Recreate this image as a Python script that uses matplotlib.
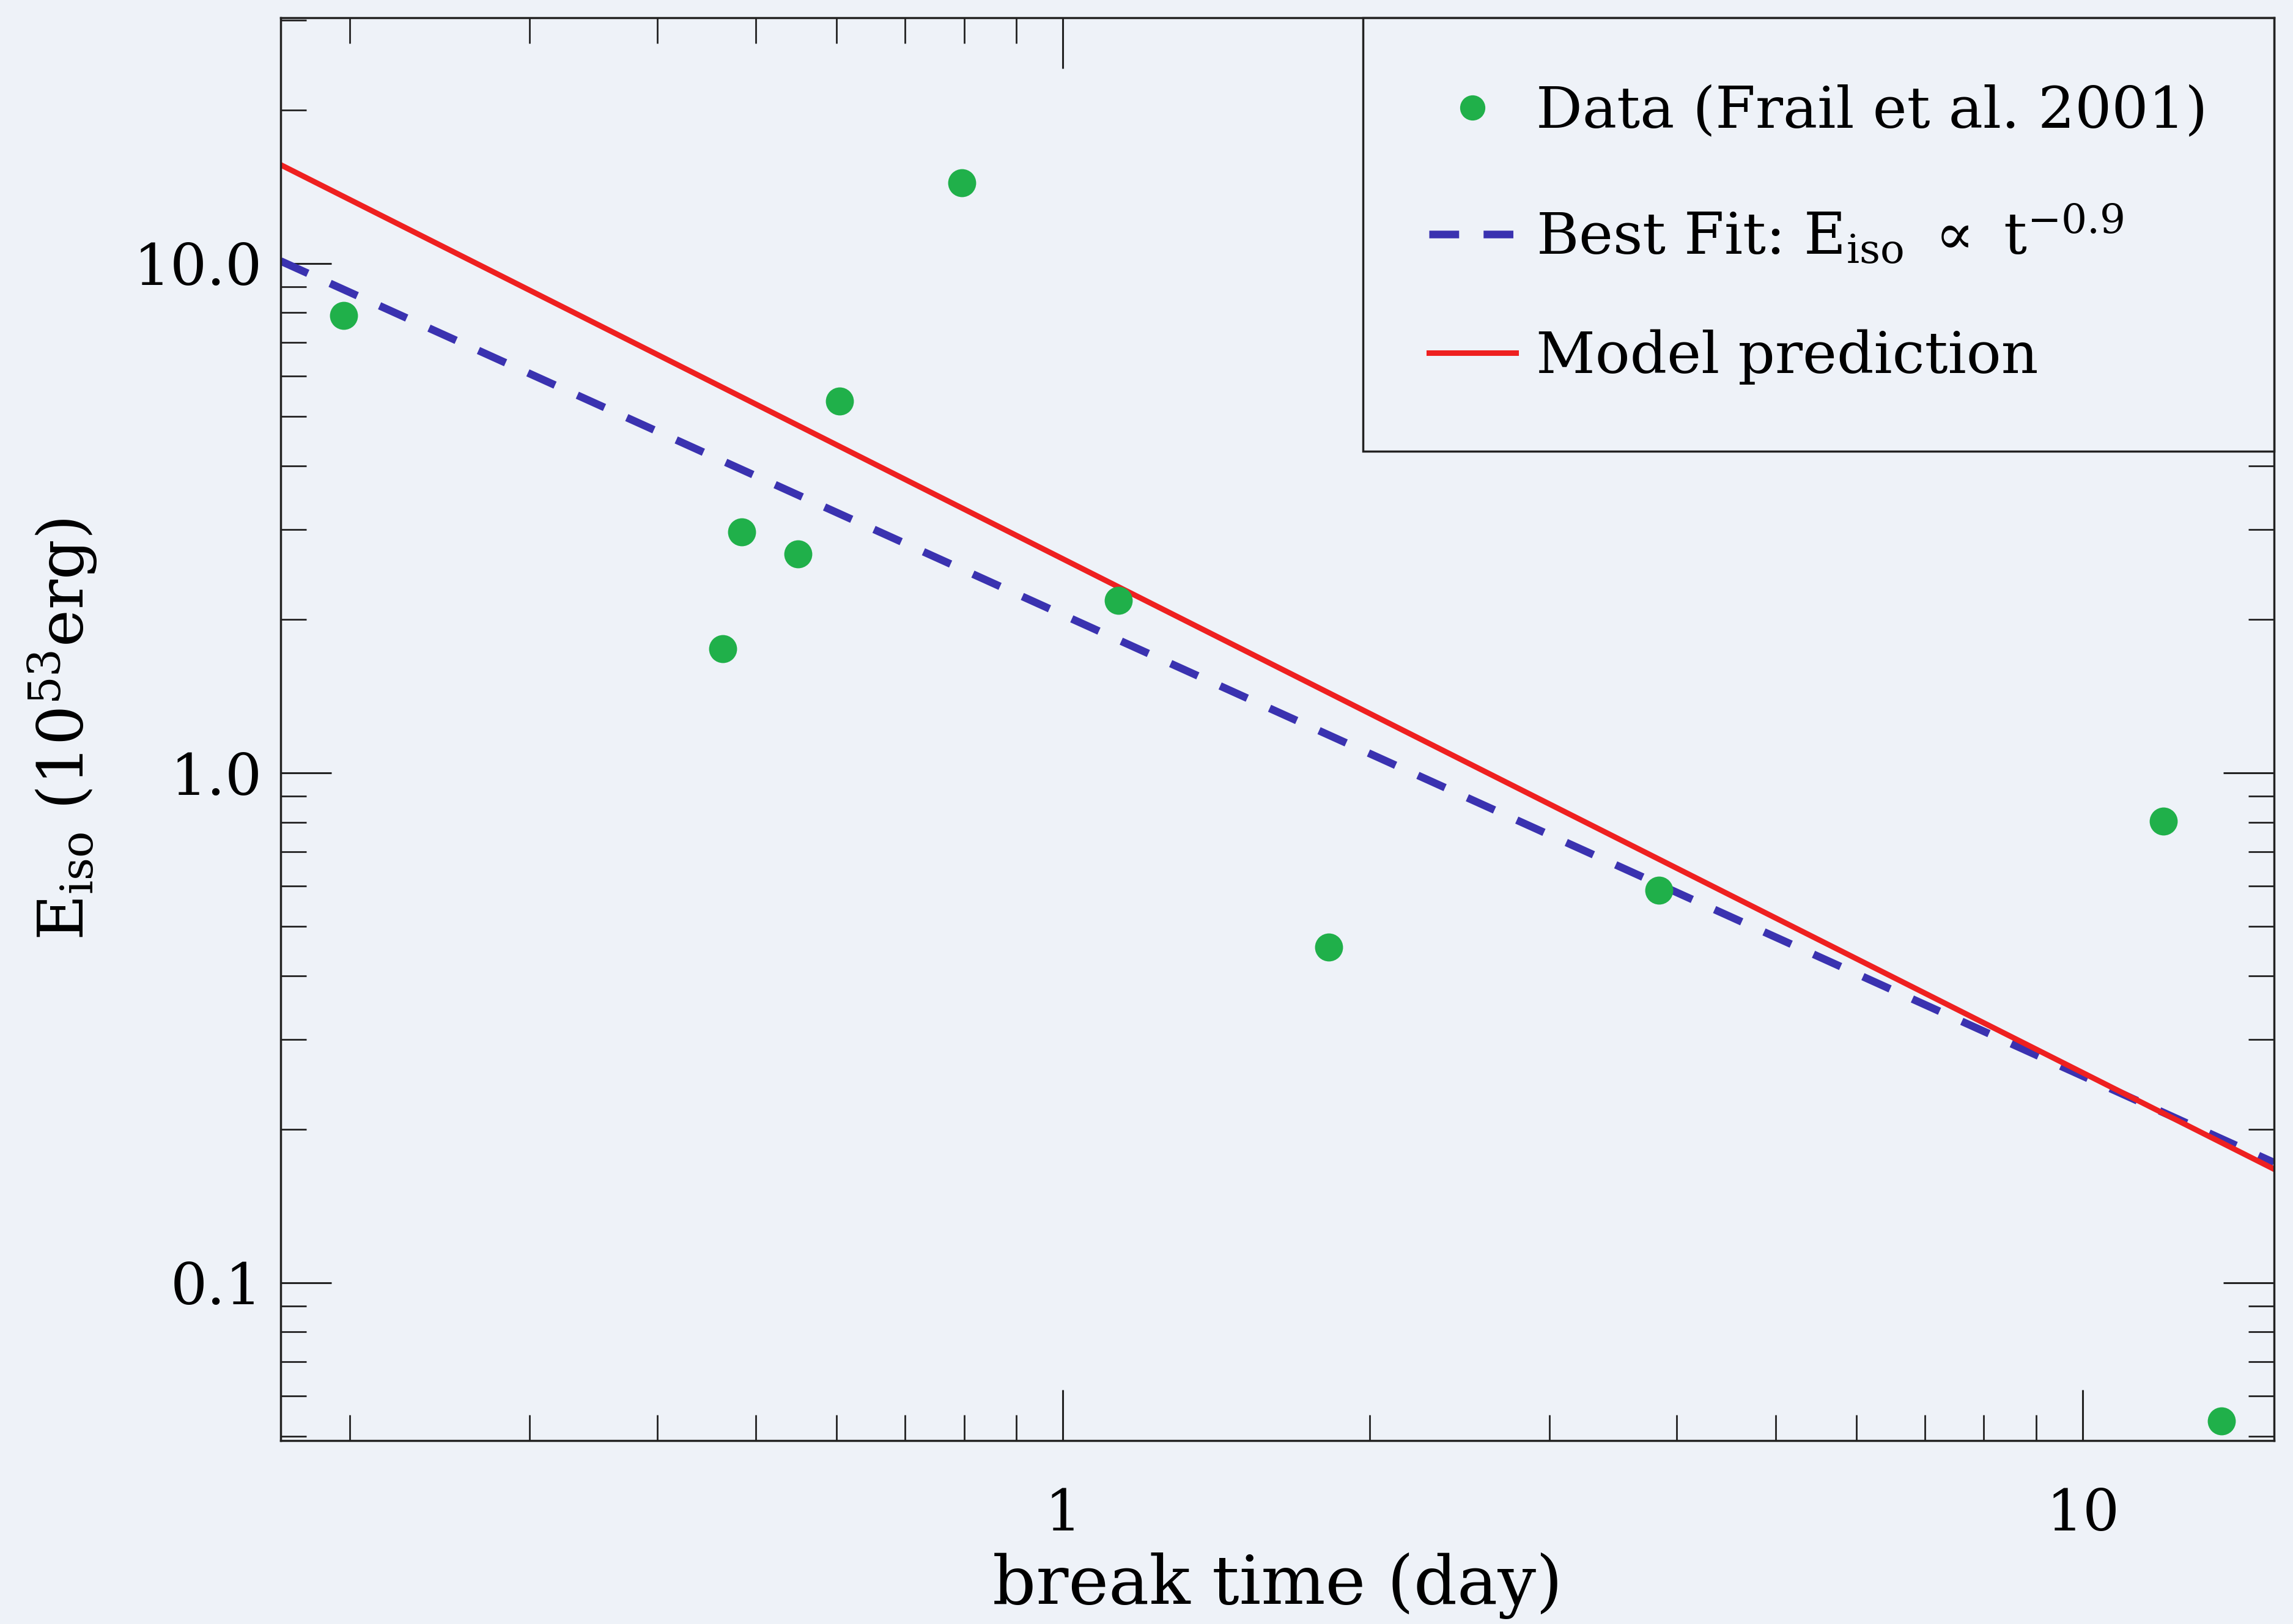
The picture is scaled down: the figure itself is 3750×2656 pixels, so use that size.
import matplotlib
matplotlib.use("Agg")
import matplotlib.pyplot as plt
from matplotlib.ticker import FixedLocator, NullFormatter, LogLocator

plt.rcParams['font.family'] = ['DejaVu Serif']
plt.rcParams['mathtext.fontset'] = 'dejavuserif'

# Data
t_break = [0.197, 0.796, 0.604, 0.484, 0.550, 0.464, 1.133, 1.823, 3.84, 11.99, 13.68]
e_iso = [7.9, 14.4, 5.36, 2.97, 2.69, 1.75, 2.18, 0.455, 0.589, 0.804, 0.0535]

fit_t = [0.171, 15.4]
fit_e = [10.1, 0.172]
model_t = [0.171, 15.4]
model_e = [15.6, 0.167]

xticks = [1, 10]
xticklabels = ["1", "10"]
yticks = [0.1, 1.0, 10.0]
yticklabels = ["0.1", "1.0", "10.0"]

bg = '#eef2f8'
fig = plt.figure(figsize=(37.5, 26.56), dpi=100, facecolor=bg)
ax = fig.add_axes([0.1224, 0.113, 0.8693, 0.876])
ax.set_facecolor(bg)

ax.plot(t_break, e_iso, 'o', color='#20b04a', markersize=33, markeredgewidth=0,
        label='Data (Frail et al. 2001)', zorder=3)
ax.plot(fit_t, fit_e, color='#3a32b0', lw=9, dashes=(3.9, 3.2),
        label=r'Best Fit: E$_{\rm iso}$ $\propto$ t$^{-0.9}$', zorder=2)
ax.plot(model_t, model_e, color='#ee2020', lw=6.5, label='Model prediction', zorder=2)

ax.set_xscale('log')
ax.set_yscale('log')
ax.set_xlim(0.171, 15.4)
ax.set_ylim(0.049, 30.3)

ax.xaxis.set_major_locator(FixedLocator(xticks))
ax.set_xticklabels(xticklabels)
ax.yaxis.set_major_locator(FixedLocator(yticks))
ax.set_yticklabels(yticklabels)
ax.xaxis.set_minor_locator(LogLocator(base=10, subs=range(2, 10)))
ax.yaxis.set_minor_locator(LogLocator(base=10, subs=range(2, 10)))
ax.xaxis.set_minor_formatter(NullFormatter())
ax.yaxis.set_minor_formatter(NullFormatter())

ax.tick_params(which='both', direction='in', top=True, right=True, color='#222222')
ax.tick_params(which='major', length=60, width=2.2, labelsize=68)
ax.tick_params(which='minor', length=30, width=2.0)
ax.tick_params(axis='y', which='major', pad=22)
ax.tick_params(axis='x', which='major', pad=55)
for s in ax.spines.values():
    s.set_linewidth(2.5)
    s.set_color('#222222')

ax.set_xlabel('break time (day)', fontsize=80, labelpad=12)
ax.set_ylabel(r'E$_{\rm iso}$ (10$^{53}$erg)', fontsize=74, labelpad=40)

leg = ax.legend(loc='upper right', borderaxespad=0, fontsize=68, frameon=True,
                fancybox=False, edgecolor='#222222', facecolor=bg, framealpha=1,
                handlelength=1.5, handletextpad=0.35, labelspacing=1.1,
                borderpad=1.15, numpoints=1, markerscale=0.9)
leg.get_frame().set_linewidth(2.5)

fig.savefig('out.png', dpi=100, facecolor=bg)
